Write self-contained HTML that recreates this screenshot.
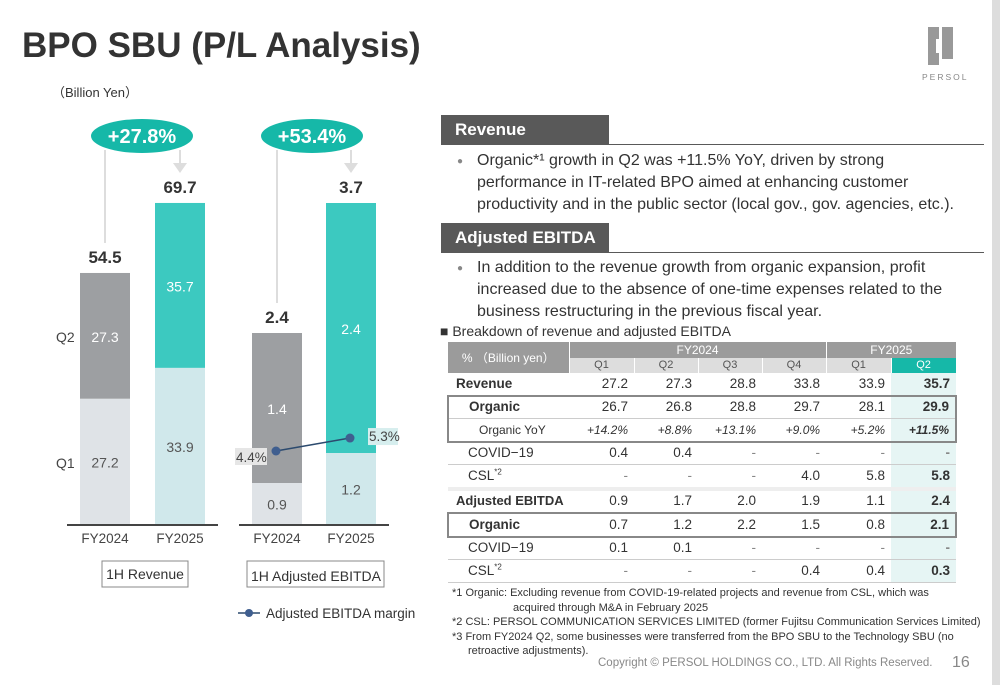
<!DOCTYPE html>
<html><head><meta charset="utf-8">
<style>
body{margin:0;width:1000px;height:685px;overflow:hidden;background:#fff;font-family:"Liberation Sans","Noto Sans CJK JP",sans-serif;color:#333;position:relative}
.a{position:absolute}
.hdr{background:#595959;color:#fff;font-weight:bold;font-size:17px;padding-left:14px;line-height:30px;box-sizing:border-box}
.bul{font-size:16px;line-height:22px;color:#333;width:490px}
.bul:before{content:"●";position:absolute;left:0;top:1px;font-size:10px;color:#888}
table{border-collapse:collapse;font-size:13.5px;table-layout:fixed;width:508px}
td{border-bottom:1px solid #ccc;text-align:right;padding:0 6px;height:21.5px;line-height:16px;white-space:nowrap;overflow:hidden}
tr.q td{height:15px;line-height:15px;background:#ddd;text-align:center;border-right:1px solid #fff;border-bottom:0}
.fn{font-size:11px;line-height:14.5px;color:#333}
</style></head><body>
<div class="a" style="left:22px;top:26px;font-size:35px;font-weight:bold;color:#333">BPO SBU (P/L Analysis)</div>
<div class="a" style="left:52px;top:82px;font-size:13px">（Billion Yen）</div>
<div class="a" style="left:928px;top:27px;width:28px;height:38px">
<div class="a" style="left:0;top:0;width:11px;height:38px;background:#999"></div>
<div class="a" style="left:14px;top:0;width:11px;height:32px;background:#999"></div>
<div class="a" style="left:8px;top:12px;width:4px;height:14px;background:#fff"></div></div>
<div class="a" style="left:922px;top:72px;font-size:8.5px;letter-spacing:2px;color:#888">PERSOL</div>
<div class="a" style="left:992px;top:0;width:8px;height:685px;background:#ddd"></div>

<svg class="a" style="left:0;top:0" width="440" height="640" id="chart"></svg>

<div class="a hdr" style="left:441px;top:115px;width:168px;">Revenue</div>
<div class="a" style="left:609px;top:144px;width:375px;height:1px;background:#595959"></div>
<div class="a bul" style="top:150px;padding-left:20px;left:457px">Organic*¹ growth in Q2 was +11.5% YoY, driven by strong performance in IT-related BPO aimed at enhancing customer productivity and in the public sector (local gov., gov. agencies, etc.).</div>
<div class="a hdr" style="left:441px;top:223px;width:168px;">Adjusted EBITDA</div>
<div class="a" style="left:609px;top:252px;width:375px;height:1px;background:#595959"></div>
<div class="a bul" style="top:257px;padding-left:20px;left:457px">In addition to the revenue growth from organic expansion, profit increased due to the absence of one-time expenses related to the business restructuring in the previous fiscal year.</div>
<div class="a" style="left:440px;top:323px;font-size:14px">■ Breakdown of revenue and adjusted EBITDA</div>

<div class="a" style="left:447px;top:342px">
<table>
<colgroup><col style="width:121px"><col style="width:65px"><col style="width:64px"><col style="width:64px"><col style="width:64px"><col style="width:65px"><col style="width:65px"></colgroup>
<tr style="background:#9b9b9b;color:#fff;font-size:12px"><td rowspan="2" style="text-align:center;border-right:1px solid #fff;border-bottom:0;height:31px">% （Billion yen）</td><td colspan="4" style="text-align:center;height:16px;line-height:16px;border-right:1px solid #fff;border-bottom:0">FY2024</td><td colspan="2" style="text-align:center;height:16px;line-height:16px;border-bottom:0">FY2025</td></tr>
<tr class="q" style="font-size:11px;color:#555"><td>Q1</td><td>Q2</td><td>Q3</td><td>Q4</td><td>Q1</td><td style="background:#16b8a8;color:#fff">Q2</td></tr>
<tbody id="tb"></tbody></table></div>

<div class="a fn" style="left:452px;top:586px;width:540px">
<div>*1 Organic: Excluding revenue from COVID-19-related projects and revenue from CSL, which was</div>
<div style="padding-left:61px">acquired through M&amp;A in February 2025</div>
<div>*2 CSL: PERSOL COMMUNICATION SERVICES LIMITED (former Fujitsu Communication Services Limited)</div>
<div>*3 From FY2024 Q2, some businesses were transferred from the BPO SBU to the Technology SBU (no</div>
<div style="padding-left:16px">retroactive adjustments).</div></div>
<div class="a" style="left:598px;top:657px;font-size:11.5px;color:#888">Copyright © PERSOL HOLDINGS CO., LTD. All Rights Reserved.</div>
<div class="a" style="left:952px;top:654px;font-size:16px;color:#888">16</div>

<script>
const rowLabels=["Revenue","Organic","Organic YoY","COVID−19","CSL","Adjusted EBITDA","Organic","COVID−19","CSL"];
const rowVals=[
["27.2","27.3","28.8","33.8","33.9","35.7"],
["26.7","26.8","28.8","29.7","28.1","29.9"],
["+14.2%","+8.8%","+13.1%","+9.0%","+5.2%","+11.5%"],
["0.4","0.4","-","-","-","-"],
["-","-","-","4.0","5.8","5.8"],
["0.9","1.7","2.0","1.9","1.1","2.4"],
["0.7","1.2","2.2","1.5","0.8","2.1"],
["0.1","0.1","-","-","-","-"],
["-","-","-","0.4","0.4","0.3"]];
const tb=document.getElementById('tb');
rowLabels.forEach((l,i)=>{
 const tr=document.createElement('tr');
 
 
 const boxed=(i==1||i==2||i==6);
 const th=document.createElement('td');
 th.style.textAlign='left';
 let pad=(i==0||i==5)?'8px':(i==2?'30px':'20px');
 th.style.paddingLeft=pad;
 th.style.paddingRight='0';
 if(i==0||i==5||i==1||i==6)th.style.fontWeight='bold';
 if(i==5)th.style.fontSize='13px';
 if(i==2)th.style.fontSize='12px';
 th.innerHTML=(i==4||i==8)?'CSL<sup style="font-size:8px;line-height:0">*2</sup>':l;
 tr.appendChild(th);
 rowVals[i].forEach((v,j)=>{const td=document.createElement('td');td.textContent=v;
  if(i==2){td.style.fontStyle='italic';td.style.fontSize='12px';}
  if(j==5){td.style.background='#e6f5f4';td.style.fontWeight='bold';}
  if(v=='-')td.style.color='#888';
  tr.appendChild(td);});
 if(i==5){tr.querySelectorAll('td').forEach(t=>t.style.borderTop='4px solid #eee');}
 if(i==1||i==6){tr.querySelectorAll('td').forEach(t=>t.style.borderTop='2px solid #888');}
 if(i==2||i==6){tr.querySelectorAll('td').forEach(t=>t.style.borderBottom='2px solid #888');}
 if(boxed){tr.firstChild.style.borderLeft='2px solid #888';tr.lastChild.style.borderRight='2px solid #888';}
 tb.appendChild(tr);
});

// chart data
const years=["FY2024","FY2025"];
const revQ1=[27.2,33.9], revQ2=[27.3,35.7], revTotal=[54.5,69.7];
const ebQ1=[0.9,1.2], ebQ2=[1.4,2.4], ebTotal=[2.4,3.7];
const margin=[4.4,5.3];
const growth=["+27.8%","+53.4%"];
const NS='http://www.w3.org/2000/svg';
const svg=document.getElementById('chart');
function mk(t,a,txt){const e=document.createElementNS(NS,t);for(const k in a)e.setAttribute(k,a[k]);if(txt!=null)e.textContent=txt;svg.appendChild(e);return e;}
const base=524;
const yRev=v=>base-v*4.606;
const yEb=v=>base-(v*100-49);
const yM=p=>451-(p-4.4)*14.4;
function panel(xs,q1,q2,tot,yf,colQ1,colQ2,g,cx,name){
 xs.forEach((x,i)=>{
  const y1=yf(q1[i]), y2=yf(tot[i]);
  let r=mk('rect',{x:x,y:y1,width:50,height:base-y1,fill:colQ1[i]});
  
  r=mk('rect',{x:x,y:y2,width:50,height:y1-y2,fill:colQ2[i]});
  
  mk('text',{x:x+25,y:(base+y1)/2+6,'text-anchor':'middle','font-size':14,fill:'#555'},q1[i].toFixed(1));
  mk('text',{x:x+25,y:(y1+y2)/2+6,'text-anchor':'middle','font-size':14,fill:'#fff'},q2[i].toFixed(1));
  const t=mk('text',{x:x+25,y:y2-10,'text-anchor':'middle','font-size':17,'font-weight':'bold',fill:'#333'},tot[i].toFixed(1));
  
  mk('text',{x:x+25,y:base+19,'text-anchor':'middle','font-size':13.5,fill:'#444'},years[i]);
 });
 mk('line',{x1:xs[0]-13,x2:xs[1]+63,y1:base+1,y2:base+1,stroke:'#444','stroke-width':2});
 mk('line',{x1:xs[0]+25,x2:xs[0]+25,y1:150,y2:yf(tot[0])-30,stroke:'#ddd','stroke-width':2});
 mk('line',{x1:xs[1]+25,x2:xs[1]+25,y1:150,y2:163,stroke:'#ddd','stroke-width':2});
 mk('polygon',{points:`${xs[1]+18},163 ${xs[1]+32},163 ${xs[1]+25},173`,fill:'#ddd'});
 const e=mk('ellipse',{cx:cx,cy:136,rx:51,ry:17,fill:'#16b8a8'});
 
 mk('text',{x:cx,y:143,'text-anchor':'middle','font-size':20,'font-weight':'bold',fill:'#fff'},g);
}
panel([80,155],revQ1,revQ2,revTotal,yRev,['#dfe3e7','#d0e8eb'],['#9d9fa2','#3cc9c0'],growth[0],142,'revenue');
panel([252,326],ebQ1,ebQ2,ebTotal,yEb,['#dfe3e7','#d0e8eb'],['#9d9fa2','#3cc9c0'],growth[1],312,'ebitda');
mk('text',{x:56,y:342,'font-size':14,fill:'#444'},'Q2');
mk('text',{x:56,y:468,'font-size':14,fill:'#444'},'Q1');
// margin line
const mx=[276,350];
mk('line',{x1:mx[0],y1:yM(margin[0]),x2:mx[1],y2:yM(margin[1]),stroke:'#2c4a6e','stroke-width':1.5});
mx.forEach((x,i)=>{const c=mk('circle',{cx:x,cy:yM(margin[i]),r:4.5,fill:'#3f5e8f'});
 });
mk('rect',{x:235,y:yM(margin[0])-3,width:32,height:17,fill:'#e6e6e6'});
mk('text',{x:236,y:yM(margin[0])+11,'font-size':13.5,fill:'#444'},margin[0].toFixed(1)+'%');
mk('rect',{x:368,y:yM(margin[1])-10,width:30,height:17,fill:'#d6eeee'});
mk('text',{x:369,y:yM(margin[1])+3,'font-size':13.5,fill:'#444'},margin[1].toFixed(1)+'%');
// category boxes
let b=mk('rect',{x:102,y:561,width:86,height:26,fill:'#fff',stroke:'#888'});

mk('text',{x:145,y:579,'text-anchor':'middle','font-size':14,fill:'#333'},'1H Revenue');
b=mk('rect',{x:247,y:561,width:137,height:26,fill:'#fff',stroke:'#888'});

mk('text',{x:316,y:581,'text-anchor':'middle','font-size':14,fill:'#333'},'1H Adjusted EBITDA');
// legend
mk('line',{x1:238,x2:260,y1:613,y2:613,stroke:'#2c4a6e','stroke-width':1.5});
mk('circle',{cx:249,cy:613,r:4,fill:'#3f5e8f'});
const lg=mk('text',{x:266,y:618,'font-size':13.5,fill:'#333'},'Adjusted EBITDA margin');

</script>
</body></html>
